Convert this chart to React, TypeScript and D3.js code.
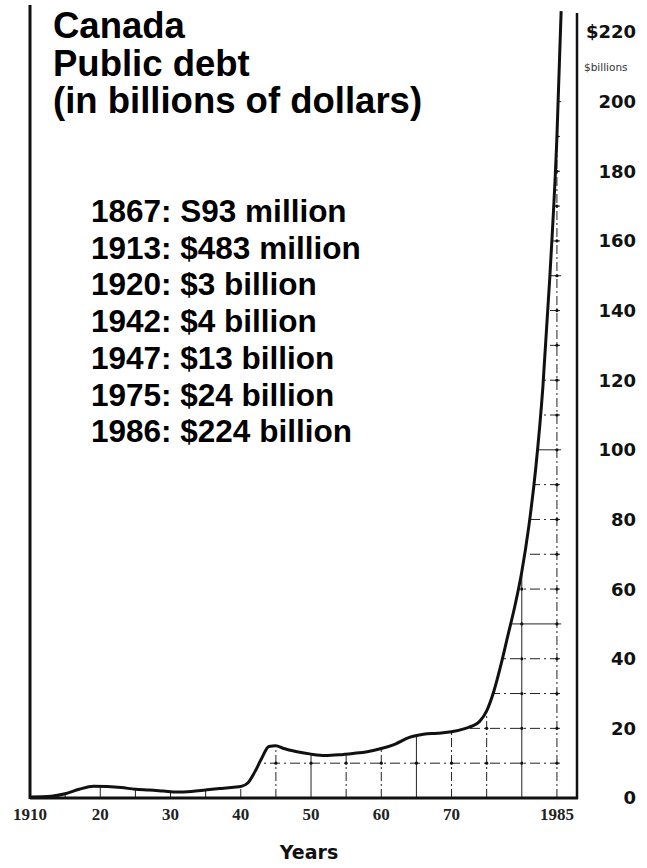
import React from "react";
import * as d3 from "d3";

// Canada public debt, billions of dollars
const years: number[] = [
  1910, 1913, 1915, 1917, 1919, 1921, 1923, 1925, 1927, 1929, 1931, 1933, 1935, 1937, 1939,
  1940, 1941, 1942, 1943, 1944, 1945, 1946, 1948, 1950, 1952, 1954, 1956, 1958, 1960, 1962,
  1964, 1966, 1968, 1970, 1972, 1973, 1974, 1975, 1976, 1977, 1978, 1979, 1980, 1981, 1982,
  1983, 1984, 1985, 1985.6,
];
const debt: number[] = [
  0.3, 0.5, 1.2, 2.5, 3.4, 3.3, 3.0, 2.5, 2.3, 2.0, 1.7, 1.9, 2.3, 2.7, 3.1,
  3.3, 4.3, 7.5, 11.5, 14.8, 15.0, 14.3, 13.3, 12.6, 12.2, 12.4, 12.8, 13.3, 14.2, 15.5,
  17.4, 18.3, 18.6, 19.0, 20.0, 20.7, 22.0, 25.0, 30.5, 38.0, 46.5, 55.0, 65.0, 78.0, 95.0,
  118.0, 150.0, 190.0, 226.0,
];

const xTickYears: number[] = [1910, 1920, 1930, 1940, 1950, 1960, 1970, 1985];
const xTickLabels: string[] = ["1910", "20", "30", "40", "50", "60", "70", "1985"];
const yTickValues: number[] = [0, 20, 40, 60, 80, 100, 120, 140, 160, 180, 200, 220];
const yTickLabels: string[] = ["0", "20", "40", "60", "80", "100", "120", "140", "160", "180", "200", "$220"];
const gridYears: number[] = d3.range(1915, 1986, 5);
const gridValues: number[] = d3.range(10, 221, 10);

const titleLines: string[] = ["Canada", "Public debt", "(in billions of dollars)"];
const notes: string[] = [
  "1867: S93 million",
  "1913: $483 million",
  "1920: $3 billion",
  "1942: $4 billion",
  "1947: $13 billion",
  "1975: $24 billion",
  "1986: $224 billion",
];

const W = 647;
const H = 868;

export default function App() {
  const x = d3.scaleLinear().domain([1910, 1988]).range([30, 578]);
  const y = d3.scaleLinear().domain([0, 220]).range([798, 32]);

  const pts: [number, number][] = years.map((yr, i) => [yr, debt[i]]);

  const line = d3
    .line<[number, number]>()
    .x((d) => x(d[0]))
    .y((d) => y(d[1]))
    .curve(d3.curveMonotoneX);

  const area = d3
    .area<[number, number]>()
    .x((d) => x(d[0]))
    .y0(y(0))
    .y1((d) => y(d[1]))
    .curve(d3.curveMonotoneX);

  const xLeft = x(1910);
  const xRight = x(1988);
  const yBase = y(0);

  return (
    <svg
      width={W}
      height={H}
      viewBox={`0 0 ${W} ${H}`}
      style={{ position: "absolute", left: 0, top: 0, display: "block", background: "#fff" }}
    >
      <defs>
        <clipPath id="underCurve">
          <path d={area(pts) || ""} />
        </clipPath>
      </defs>

      {/* grid only shows under the curve */}
      <g clipPath="url(#underCurve)" stroke="#222" strokeWidth={1}>
        {gridYears.map((g) => (
          <line
            key={"gx" + g}
            x1={x(g)}
            x2={x(g)}
            y1={yBase}
            y2={y(230)}
            strokeDasharray={g % 15 === 0 ? "none" : "9 3 2 3"}
          />
        ))}
        {gridValues.map((v) => (
          <line
            key={"gy" + v}
            x1={xLeft}
            x2={xRight}
            y1={y(v)}
            y2={y(v)}
            strokeDasharray={v % 50 === 0 ? "none" : "10 4 2 4"}
          />
        ))}
        {gridYears.map((g) =>
          gridValues.map((v) => (
            <circle key={`d${g}-${v}`} cx={x(g)} cy={y(v)} r={1.6} fill="#111" stroke="none" />
          ))
        )}
      </g>

      {/* frame */}
      <line x1={xLeft} x2={xLeft} y1={5} y2={yBase + 1} stroke="#111" strokeWidth={3} />
      <line x1={xRight - 1} x2={xRight - 1} y1={13} y2={yBase + 1} stroke="#111" strokeWidth={2.5} />
      <line x1={xLeft} x2={xRight} y1={yBase} y2={yBase} stroke="#111" strokeWidth={3} />

      {/* debt curve */}
      <path d={line(pts) || ""} fill="none" stroke="#111" strokeWidth={3} strokeLinejoin="round" />

      {/* x axis labels */}
      <g fontFamily="'Liberation Serif', 'Times New Roman', serif" fontWeight="bold" fontSize={17} fill="#222">
        {xTickYears.map((yr, i) => (
          <text key={"xt" + yr} x={x(yr)} y={820} textAnchor="middle">
            {xTickLabels[i]}
          </text>
        ))}
      </g>
      <text
        x={309}
        y={859}
        textAnchor="middle"
        fontFamily="'DejaVu Sans', sans-serif"
        fontWeight="bold"
        fontSize={19}
        fill="#111"
      >
        Years
      </text>

      {/* right value labels */}
      <g fontFamily="'DejaVu Sans', sans-serif" fontWeight="bold" fontSize={18} fill="#111">
        {yTickValues.map((v, i) => (
          <text key={"yt" + v} x={636} y={y(v)} dy="0.36em" textAnchor="end">
            {yTickLabels[i]}
          </text>
        ))}
      </g>
      <text x={584} y={y(210)} dy="0.36em" fontFamily="'DejaVu Sans', sans-serif" fontSize={10.5} fill="#333">
        $billions
      </text>

      {/* title */}
      <g fontFamily="'Liberation Sans', Arial, sans-serif" fontWeight="bold" fontSize={36.5} fill="#000">
        {titleLines.map((t, i) => (
          <text key={"t" + i} x={53} y={38 + i * 37.5}>
            {t}
          </text>
        ))}
      </g>

      {/* milestones */}
      <g fontFamily="'Liberation Sans', Arial, sans-serif" fontWeight="bold" fontSize={31.5} fill="#000">
        {notes.map((t, i) => (
          <text key={"n" + i} x={91} y={222 + i * 36.7}>
            {t}
          </text>
        ))}
      </g>
    </svg>
  );
}
